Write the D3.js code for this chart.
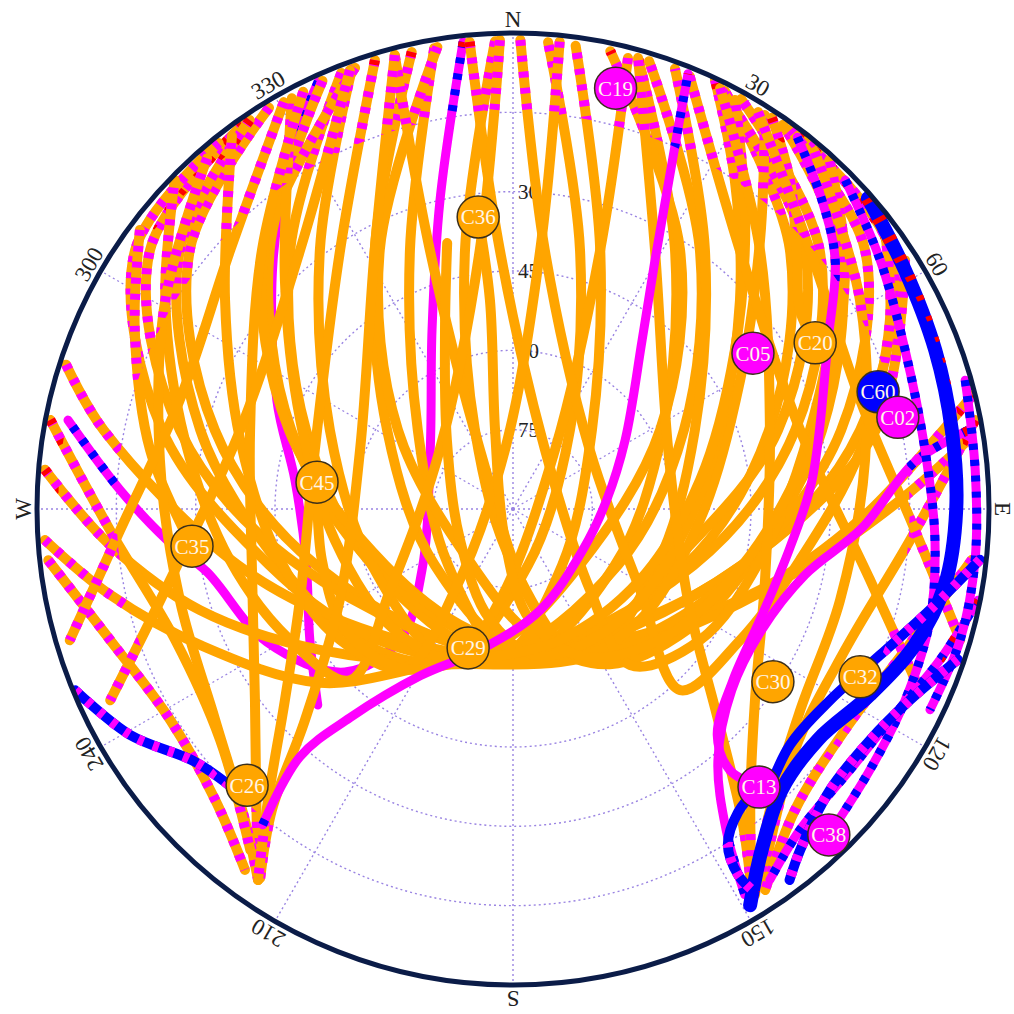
<!DOCTYPE html>
<html>
<head>
<meta charset="utf-8">
<script src="https://cdn.jsdelivr.net/npm/d3@7"></script>
<style>
  body { margin: 0; background: #fff; }
  svg text { font-family: "Liberation Serif", "Times New Roman", serif; }
</style>
</head>
<body>
<div id="skyplot"></div>
<script>
// Axis ticks
const azTicks = [0, 30, 60, 90, 120, 150, 180, 210, 240, 270, 300, 330]
const azLabels = ["N", "30", "60", "E", "120", "150", "S", "210", "240", "W", "300", "330"]
const elTicks = [15, 30, 45, 60, 75]
const elLabels = [30, 45, 60, 75]

// Satellite tracks, [azimuth, elevation] in degrees
// MEO passes (orange)
const trU1 = [[350.3,1.6],[338.3,37.3],[309.7,66.6],[229.3,73.8],[183.2,62.9],[138.8,75.9],[45,68.9],[18.6,38.3],[7.7,1.6]]
const trU2 = [[347.5,1.5],[331.9,34.5],[302.1,61.9],[234.3,71.8],[175.2,62.9],[118.8,68],[62.2,58],[32,32.2],[15.5,1.5]]
const trU3 = [[338.5,1.4],[319.3,25.4],[290.9,48.1],[248.3,61.3],[187.2,62.8],[118.1,67.5],[65.2,54.4],[35.8,29.6],[16.9,1.5]]
const trU4 = [[336,1.4],[316.8,22.8],[289.6,45.5],[248.1,61.7],[173.3,62.6],[107.9,55.6],[72.8,39.3],[46.9,18.3],[26.9,1.4]]
const trU5 = [[328.7,1.2],[308.7,11.7],[284.8,31.7],[254.1,51.3],[183.2,62.9],[107.2,54.2],[74.4,34.6],[49.8,14.1],[29.1,1.3]]
const trU6 = [[324.9,1.2],[305.5,5.7],[283.3,25.3],[255.4,48],[177.2,62.7],[103.7,45.4],[77.2,22.7],[55.5,3.5],[37.4,1.2]]
const trU7 = [[287.9,1.2],[280.9,11.2],[258.5,36.9],[232.1,53.4],[189,62.1],[138,59.7],[103.7,45.4],[77.7,19.8],[57.6,2.2]]
const trU8 = [[339.9,1.4],[323.3,28.9],[293.3,52.3],[248.3,61.3],[202.9,59.4],[165,79],[35.8,71.6],[14.5,39.4],[4.3,1.5]]
const trU9 = [[357.8,1.5],[349.5,40.2],[334.3,73.4],[180,79.4],[154.5,58.4],[111.3,60.8],[66.5,52.5],[36.5,29],[20.2,1.3]]
const trU10 = [[325.9,1.2],[307.9,10.2],[284.2,29],[256.5,44.7],[232.3,51],[208.3,56.9],[183.5,65.2],[129.9,73.5],[61.7,58.4],[32.8,31.7],[12,1.5]]
const trU11 = [[350.7,1.5],[332.8,34.9],[304.5,63.6],[216.2,76.9],[170.3,65.3],[148,55.4],[123.9,49.7],[103.4,44.3],[75.7,29.7],[51.6,11.1],[35.1,1.2]]
const trU12 = [[321.2,1.2],[304.4,3.4],[282.7,22],[257.1,42.7],[231.2,52.9],[195.9,60.3],[149.6,61.3],[109.5,58.3],[73.4,37.7],[48.4,16.2],[26.3,1.4]]
const trU13 = [[340.3,1.4],[316.2,22.2],[289.4,45.1],[246.4,63.6],[199.6,65.7],[160.5,60.5],[129,54.2],[103.6,44.9],[76.5,26.2],[53.7,7.4],[36.2,1.2]]
const trU15 = [[274.8,1.2],[264.9,13.5],[252.1,27.8],[233.9,44.8],[199.1,59.4],[140.8,58],[108.2,40.9],[91.8,24.4],[80.7,9.2],[76.1,0.5]]
const trU16 = [[266.2,1.3],[258,12.1],[246.5,25.5],[228,40.9],[205.1,57.4],[162.9,59.7],[125.9,51],[102,34.5],[88.7,16.8],[81.4,3]]
const trW1 = [[345.4,1.3],[342.2,38.6],[330.8,77.2],[169.4,72.5],[157,60],[131.2,58.1],[93.4,54.6],[60.4,40.6],[42.6,21],[32.6,1.6]]
const trW2 = [[14.3,2],[18.6,38.3],[35.4,76.3],[188.1,72.6],[201.3,59.8],[224.3,58],[260.1,55.8],[292.7,46.4],[315.1,28.9],[331.7,1.8]]
const trW3 = [[354.7,1.3],[357.1,41],[28.5,77.3],[136.4,68.9],[143.1,53.1],[125,46.8],[101.7,42.3],[75.1,31.9],[57,17.4],[43.1,2.3]]
const trW4 = [[5.7,1.2],[6,40.8],[352.3,78.7],[215.6,71.2],[214.2,53.7],[232.9,49],[257.7,44.9],[284.2,36.8],[306,22.7],[323,1.7]]
const trW5 = [[0.9,1.3],[7,40.7],[52.5,71.7],[122.5,61.5],[137.3,43.4],[120,40.4],[100.1,34.9],[80.4,23.4],[63.4,10.3],[53.1,2.1]]
const trW6 = [[358.4,1.3],[352.7,40.6],[308.9,72.2],[236.6,62.2],[223.6,45.3],[239.6,41.1],[259.8,35.6],[281.9,26.6],[301,13.3],[314.2,0.8]]
const trS1 = [[346.1,38.2],[339.2,53.8],[316.3,71.9],[239.7,78.4],[191.7,68.6],[169.6,61.7],[135.9,60.8],[100.5,57.9],[69.1,48.1],[47.4,31.7],[34,15],[25.2,0.3]]
const trC36 = [[353.2,34.4],[353.7,50.2],[347.2,74.7],[194.5,83.9],[171.3,68.8],[154.1,58.9],[131.7,52.8],[108.1,46.8],[86.1,37.5],[67.9,25.3],[53.1,11.5],[42.2,0.9]]
const trC45 = [[277.8,52.6],[255.1,52.6],[234.2,50.9],[215.4,53.1],[195.9,60.3],[160.3,63.7],[119.2,62.5],[81.2,54.2],[54.4,38.4],[38.8,19.9],[28.5,2]]
const trC35 = [[306.8,1.9],[295.3,10.9],[279.2,20.5],[263.4,28.9]]
const trC20 = [[33.5,1.3],[40.1,8.7],[48.8,18.6],[55.3,24],[61.2,24.8]]
const trJ1 = [[345.4,1.3],[331.9,34.5],[291.1,59],[242.3,53],[224.6,34],[218.7,17.1],[214.4,5.4]]
const trJ2 = [[333.3,1.7],[315.9,21.8],[286.7,38.1],[254.8,38.9],[233.5,29.3],[221.4,16.6],[214.5,4.9]]
const trJ3 = [[318.9,2],[301,13.3],[277.9,22.6],[254.7,24.7],[234.7,21],[220.8,12.4],[214.5,4.9]]
const trJ4 = [[280.9,0.9],[267,13.7],[248.8,21.5],[231.8,19.5],[217.6,8.6]]
const trJ5 = [[263.7,1.6],[252,9.9],[238.4,13.9],[225.7,11.3],[216.6,5]]
const trJ6 = [[330.6,1.7],[312.5,17.5],[288.1,23.7],[266.9,15.6],[253.5,2.6]]
const trJ7 = [[339.6,1.5],[320.6,26.6],[286.1,36.3],[258.3,23.8],[244.6,5.7]]
const trJ8 = [[342.9,1.2],[326.3,31.1],[286.6,50.9],[246.9,46.2],[230.1,33.8],[220.1,18.1],[214.5,4.9]]
const trK1 = [[15.6,1.9],[28.7,34.1],[69.2,58.6],[117.5,52.7],[135.8,34.4],[143.6,17],[148.2,4.2]]
const trK2 = [[26.2,1.3],[43.6,22.3],[73,39.2],[105.7,40.5],[128.3,31.7],[140.8,19],[148.2,4.2]]
const trK3 = [[40.2,1.6],[58.9,13.4],[82.1,22.8],[105.6,25.8],[125,23.7],[139.5,15.2],[147.9,3.9]]
const trK4 = [[79.1,1],[94.5,14.7],[113,21.8],[130.5,19.9],[146.1,5.5]]
const trK5 = [[96.3,2.7],[109.8,11.2],[123.7,14.6],[136.9,12],[146.5,3.6]]
const trK6 = [[31.7,1.8],[48.9,15.5],[72.6,21.2],[93,13.9],[106.3,1.9]]
const trK7 = [[22.2,1.6],[41.2,24.9],[74.6,33.7],[101.2,21.2],[114,5.8]]

// IGSO / MEO passes (magenta)
const trM1 = [[353.9,1.2],[346.7,30],[335.7,52.8],[305.4,70.8],[236.2,69.3],[220.8,57.3],[225.9,45.7],[241.6,37.1],[258.4,30.9],[264.9,24.3],[272.8,15.6],[281.3,4.2]]
const trM2 = [[218.4,13.8],[220.7,28.2],[218,39.9],[209.1,53.9],[193.2,62.6],[165,70.2],[120.4,74.7],[84.5,72.2],[58.4,65.1],[37.4,49.8],[29.7,35.8],[25.8,23],[23.4,11.3],[21.9,1.3]]
const trM3 = [[335.5,1.2],[328.4,10.3],[316.1,24.6],[294.8,40.8],[277.6,48.4],[256.2,49.7],[237.2,44.3],[224.9,37.7]]
const trM4 = [[37.4,1.5],[45,7.4],[52.3,13],[61.8,22.4],[84.5,33.2],[97.8,37.1],[112.6,38.8],[127.9,37.3],[137.9,32.4],[140.3,25.8],[138.5,19.8]]
const trM5 = [[80.2,2.7],[83.3,13.5],[93.1,23.9],[102.7,33.4],[115.9,37.7],[129.6,36.3],[140.8,28.7],[146.4,17.2],[149,4.9]]
const trM6 = [[45.3,1.6],[55.8,6.1],[67.9,10],[81.9,11.3],[94.2,10],[104.9,8.4],[116,7.5],[126.2,6.4],[135.9,4.2]]
const trM7 = [[101.1,0.4],[109.5,4.4],[119.2,8.3],[127.8,9.4],[138.2,8.6],[145.3,4.7]]
const trM8 = [[74.1,1.1],[85.2,2.3],[96.3,2.1],[106.3,1.9],[115.7,2.5]]

// GEO / low passes (blue)
const trB1 = [[48.8,0.8],[58.6,3.2],[69.4,4.7],[79.8,5.7],[90.1,6.2],[100,7.1],[108.7,9.8],[117.5,13.9],[127.1,17.7],[136.3,16.5],[143.9,10.2],[149.1,2.7]]
const trB2 = [[96.2,1.2],[103.6,8.9],[111.7,15.3],[121.1,20],[130.4,21.2],[139.1,17.2]]
const trB3 = [[108.7,1.2],[115.7,6.7],[122.9,9.6],[131.6,9.9],[139.9,5.7],[143.3,2.5]]
const trB4 = [[247.5,0.4],[239.5,5.9],[231.5,13.2],[224.7,15.3]]
const trB5 = [[138.5,19.8],[143.4,18.6],[147.4,14.6],[148.4,8.8],[147.9,5]]

// Current satellite positions
const satNames = ["C19", "C36", "C05", "C20", "C60", "C02", "C45", "C35", "C29", "C30", "C32", "C13", "C38", "C26"]
const satAz = [13.7, 353.2, 57.0, 61.2, 72.2, 76.6, 277.8, 263.4, 197.9, 123.6, 115.8, 138.5, 135.9, 223.9]
const satEl = [8.1, 34.4, 35.9, 24.8, 17.5, 15.2, 52.6, 28.9, 62.4, 31.0, 17.1, 19.8, 4.2, 17.5]
const satType = ["m", "o", "m", "o", "b", "m", "o", "o", "o", "o", "o", "m", "m", "o"]

const colors = {o: "#FFA500", m: "#FF00FF", b: "#0000FF", r: "#FF0000"}

// Layout
const size = 1014
const cx = 513, cy = 509, R = 476

const svg = d3.select("#skyplot").append("svg")
    .attr("width", size)
    .attr("height", size)

const rScale = d3.scaleLinear().domain([90, 0]).range([0, R])
const rad = d => d * Math.PI / 180
const px = d => cx + rScale(d[1]) * Math.sin(rad(d[0]))
const py = d => cy - rScale(d[1]) * Math.cos(rad(d[0]))

const line = d3.line().x(px).y(py).curve(d3.curveCatmullRom.alpha(0.5))

// clip regions: whole sky, low-elevation band, near-horizon band
const defs = svg.append("defs")
defs.append("clipPath").attr("id", "sky")
    .append("circle").attr("cx", cx).attr("cy", cy).attr("r", R)
const ring = (inner) => d3.arc().innerRadius(inner).outerRadius(R + 10).startAngle(0).endAngle(2 * Math.PI)()
defs.append("clipPath").attr("id", "low")
    .append("path").attr("transform", `translate(${cx},${cy})`).attr("d", ring(rScale(15)))
defs.append("clipPath").attr("id", "hor")
    .append("path").attr("transform", `translate(${cx},${cy})`).attr("d", ring(rScale(4)))

// Grid
const grid = svg.append("g")
    .attr("fill", "none")
    .attr("stroke", "#9a84e2")
    .attr("stroke-width", 1.4)
    .attr("stroke-dasharray", "2,3")
grid.selectAll("circle")
    .data(elTicks)
    .join("circle")
    .attr("cx", cx).attr("cy", cy)
    .attr("r", d => rScale(d))
grid.selectAll("line")
    .data(azTicks)
    .join("line")
    .attr("x1", cx).attr("y1", cy)
    .attr("x2", d => px([d, 0]))
    .attr("y2", d => py([d, 0]))

svg.append("g").selectAll("text")
    .data(elLabels)
    .join("text")
    .attr("x", cx + 5)
    .attr("y", d => py([0, d]))
    .attr("dy", "0.35em")
    .attr("font-size", 21)
    .attr("fill", "#222")
    .text(d => d)

// Tracks
const tracks = svg.append("g")
    .attr("clip-path", "url(#sky)")
    .attr("fill", "none")
    .attr("stroke-linecap", "round")
    .attr("stroke-linejoin", "round")

function drawTrack(tr, col, alt, w, red) {
    tracks.append("path")
        .attr("d", line(tr))
        .attr("stroke", colors[col])
        .attr("stroke-width", w)
    if (alt) {
        tracks.append("g").attr("clip-path", "url(#low)")
            .append("path")
            .attr("d", line(tr))
            .attr("stroke", colors[alt])
            .attr("stroke-width", w)
            .attr("stroke-linecap", "butt")
            .attr("stroke-dasharray", "6,10")
    }
    if (red) {
        tracks.append("g").attr("clip-path", "url(#hor)")
            .append("path")
            .attr("d", line(tr))
            .attr("stroke", colors.r)
            .attr("stroke-width", w)
            .attr("stroke-linecap", "butt")
            .attr("stroke-dasharray", "5,17")
    }
}

const magentaUnder = [trM1, trM3]
const orangeTracks = [trU1, trU2, trU3, trU4, trU5, trU6, trU7, trU8, trU9, trU10, trU11, trU12, trU13,
    trU15, trU16, trW1, trW2, trW3, trW4, trW5, trW6, trS1, trC36, trC45, trC35, trC20,
    trJ1, trJ2, trJ3, trJ4, trJ5, trJ6, trJ7, trJ8, trK1, trK2, trK3, trK4, trK5, trK6, trK7]
const magentaOver = [trM2, trM4, trM5, trM6, trM7, trM8]
const blueTracks = [trB2, trB3, trB4, trB5]

magentaUnder.forEach((t, i) => drawTrack(t, "m", "b", 9, i === 0))
orangeTracks.forEach((t, i) => drawTrack(t, "o", "m", 10, i % 4 === 1))
magentaOver.forEach((t, i) => drawTrack(t, "m", "b", 9, i % 2 === 0))
drawTrack(trB1, "b", null, 14, true)
blueTracks.forEach(t => drawTrack(t, "b", "m", 10, false))

// Outer horizon circle
svg.append("circle")
    .attr("cx", cx).attr("cy", cy).attr("r", R)
    .attr("fill", "none")
    .attr("stroke", "#0b1c48")
    .attr("stroke-width", 5)

// Azimuth labels, rotated along the rim
svg.append("g").selectAll("text")
    .data(azTicks)
    .join("text")
    .attr("transform", d => {
        const x = cx + (R + 14) * Math.sin(rad(d))
        const y = cy - (R + 14) * Math.cos(rad(d))
        return `translate(${x},${y}) rotate(${d})`
    })
    .attr("text-anchor", "middle")
    .attr("dy", "0.35em")
    .attr("font-size", 23)
    .attr("fill", "#222")
    .text((d, i) => azLabels[i])

// Satellite markers
const sats = svg.append("g").selectAll("g")
    .data(satNames)
    .join("g")
    .attr("transform", (d, i) => `translate(${px([satAz[i], satEl[i]])},${py([satAz[i], satEl[i]])})`)
sats.append("circle")
    .attr("r", 21)
    .attr("fill", (d, i) => colors[satType[i]])
    .attr("stroke", "#3b2f1a")
    .attr("stroke-width", 1.5)
sats.append("text")
    .attr("text-anchor", "middle")
    .attr("dy", "0.35em")
    .attr("font-size", 21)
    .attr("fill", "#fff6ea")
    .text(d => d)
</script>
</body>
</html>
